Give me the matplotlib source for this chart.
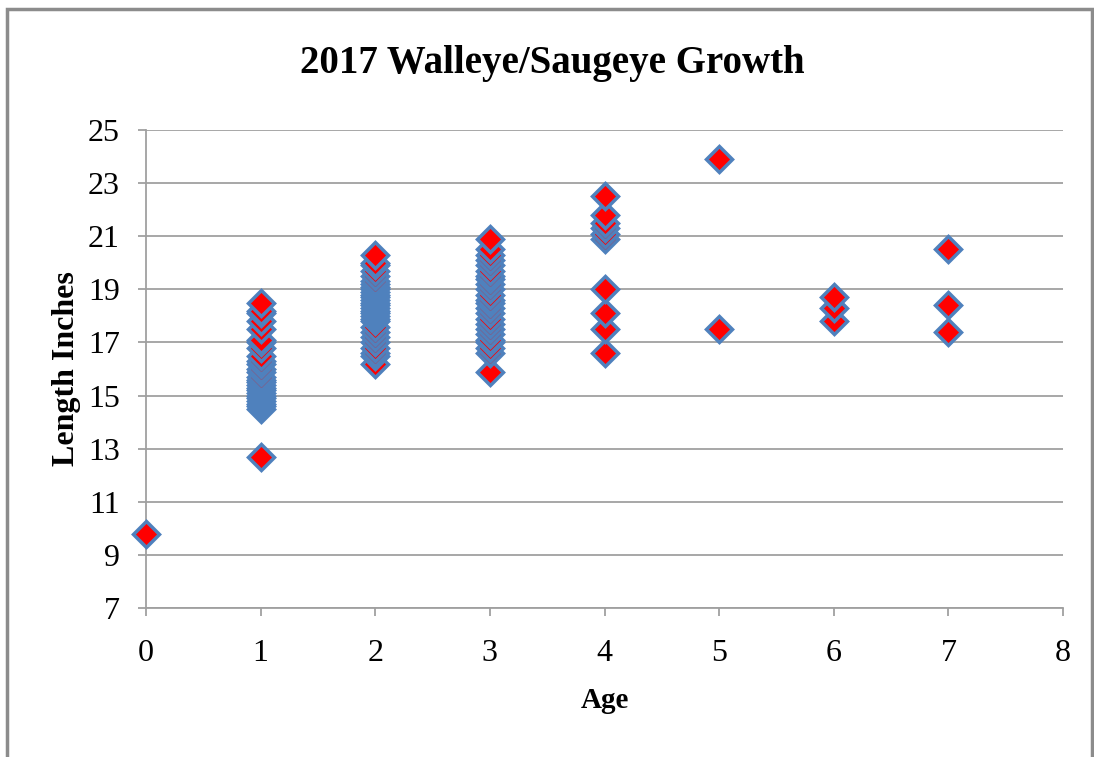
import numpy as np
import matplotlib.pyplot as plt
from matplotlib.patches import Rectangle

#
##DATA (length in inches by age)
len_age0 = [9.8]
len_age1 = [12.7, 14.5, 14.6, 14.7, 14.8, 14.9, 15.0, 15.1, 15.2, 15.3, 15.4, 15.5,
            15.6, 15.7, 15.9, 16.0, 16.2, 16.3, 16.5, 16.8, 17.0, 17.1, 17.5, 17.8,
            18.1, 18.2, 18.5]
len_age2 = [16.2, 16.5, 16.6, 16.8, 17.0, 17.2, 17.4, 17.6, 17.8, 17.9, 18.0, 18.1,
            18.2, 18.3, 18.4, 18.5, 18.6, 18.7, 18.8, 18.9, 19.0, 19.1, 19.2, 19.3,
            19.5, 19.7, 19.9, 20.0, 20.3]
len_age3 = [15.9, 16.6, 16.8, 17.0, 17.1, 17.3, 17.5, 17.7, 17.9, 18.1, 18.3, 18.5,
            18.6, 18.8, 19.0, 19.2, 19.4, 19.5, 19.7, 19.9, 20.1, 20.3, 20.5, 20.9]
len_age4 = [16.6, 17.5, 18.1, 19.0, 20.9, 21.1, 21.3, 21.5, 21.8, 22.5]
len_age5 = [17.5, 23.9]
len_age6 = [17.8, 18.3, 18.7]
len_age7 = [17.4, 18.4, 20.5]

ages = [0, 1, 2, 3, 4, 5, 6, 7]
lengths = [len_age0, len_age1, len_age2, len_age3, len_age4, len_age5, len_age6, len_age7]

x_ticks = [0, 1, 2, 3, 4, 5, 6, 7, 8]
y_ticks = [7, 9, 11, 13, 15, 17, 19, 21, 23, 25]

x_vals = []
y_vals = []
for a, ls in zip(ages, lengths):
    for v in sorted(ls):
        x_vals.append(a)
        y_vals.append(v)

plt.rcParams['font.family'] = ['Liberation Serif', 'DejaVu Serif']

fig = plt.figure(figsize=(10.94, 7.57), dpi=100)
ax = fig.add_axes([0.1335, 0.1968, 0.9717 - 0.1335, 0.8283 - 0.1968])

##GRAPH IT UP!
ax.plot(x_vals, y_vals, ls='none', marker='D', markersize=13.5,
        markerfacecolor='#FF0000', markeredgecolor='#4F81BD', markeredgewidth=2.5,
        clip_on=False, zorder=3)

ax.set_xlim(0, 8)
ax.set_ylim(7, 25)
ax.set_xticks(x_ticks)
ax.set_yticks(y_ticks)
ax.grid(axis='y', color='#A0A0A0', lw=1.3)
ax.set_axisbelow(True)
for s in ['top', 'right']:
    ax.spines[s].set_visible(False)
for s in ['left', 'bottom']:
    ax.spines[s].set_color('#A0A0A0')
    ax.spines[s].set_linewidth(1.3)
ax.tick_params(axis='both', colors='#A0A0A0', labelcolor='black', length=6,
               width=1.3, labelsize=23)
ax.tick_params(axis='x', pad=16)
ax.tick_params(axis='y', pad=13)

ax.set_xlabel('Age', fontsize=21, fontweight='bold', labelpad=14)
ax.set_ylabel('Length Inches', fontsize=23, fontweight='bold', labelpad=5)
fig.text(0.505, 1 - 63 / 757, '2017 Walleye/Saugeye Growth', ha='center', va='center',
         fontsize=28, fontweight='bold')

# chart-area border like the spreadsheet frame
fig.patches.append(Rectangle((7 / 1094, -0.05), (1092 - 7) / 1094, 1.05 - 9 / 757,
                             transform=fig.transFigure, fill=False,
                             edgecolor='#8C8C8C', lw=2.5))

fig.savefig('out.png', dpi=100)
